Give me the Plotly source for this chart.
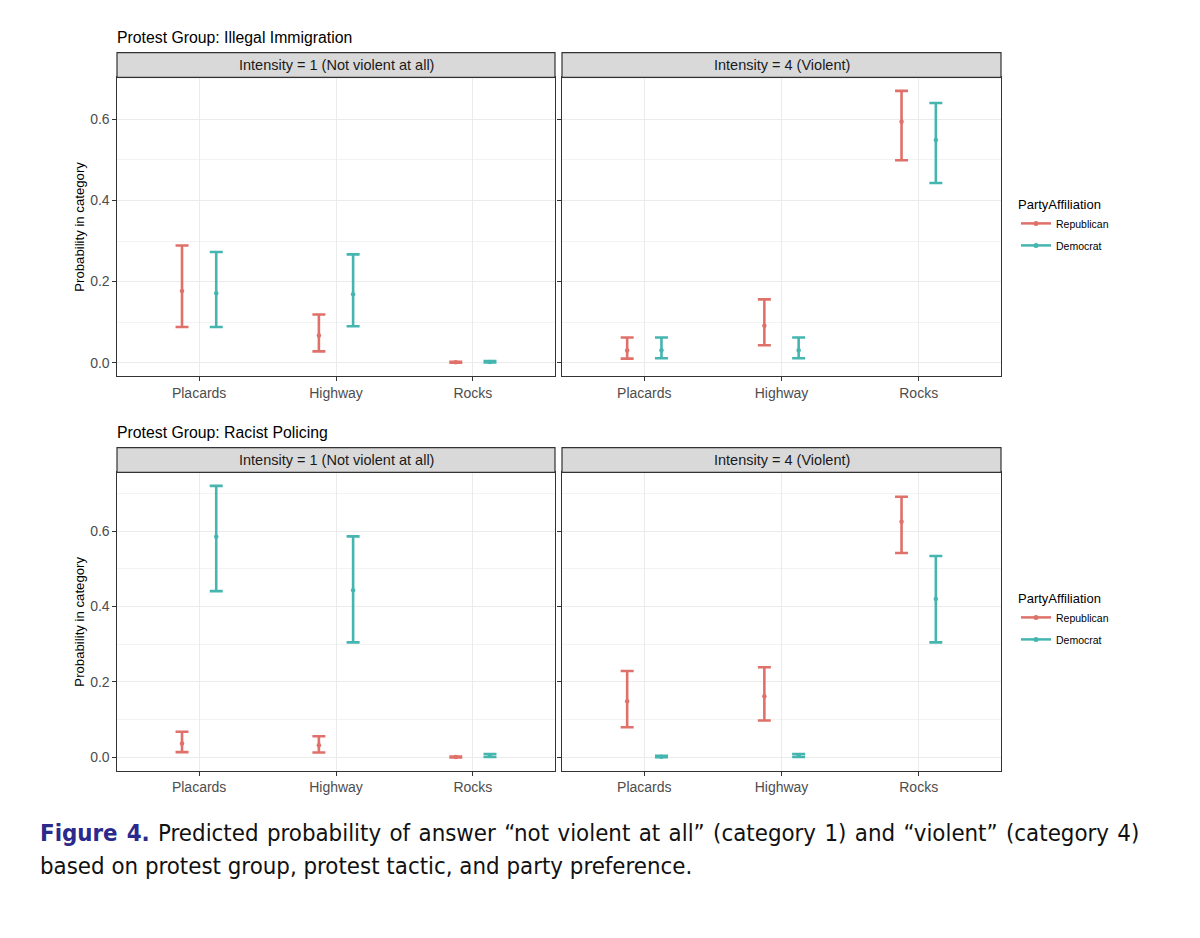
import plotly.graph_objects as go

# ---------------- data ----------------
tactics = ["Placards", "Highway", "Rocks"]
parties = ["Republican", "Democrat"]
groups = ["Protest Group: Illegal Immigration", "Protest Group: Racist Policing"]
intensities = ["Intensity = 1 (Not violent at all)", "Intensity = 4 (Violent)"]
y_ticks = [0.0, 0.2, 0.4, 0.6]

# Illegal Immigration, Intensity 1
imm1_rep_est = [0.177, 0.067, 0.001]
imm1_rep_lo = [0.088, 0.028, 0.000]
imm1_rep_hi = [0.289, 0.119, 0.002]
imm1_dem_est = [0.171, 0.169, 0.002]
imm1_dem_lo = [0.088, 0.090, 0.0005]
imm1_dem_hi = [0.273, 0.267, 0.004]
# Illegal Immigration, Intensity 4
imm4_rep_est = [0.030, 0.091, 0.594]
imm4_rep_lo = [0.010, 0.043, 0.499]
imm4_rep_hi = [0.062, 0.156, 0.670]
imm4_dem_est = [0.031, 0.031, 0.549]
imm4_dem_lo = [0.011, 0.011, 0.443]
imm4_dem_hi = [0.062, 0.062, 0.640]
# Racist Policing, Intensity 1
pol1_rep_est = [0.037, 0.032, 0.001]
pol1_rep_lo = [0.014, 0.013, 0.000]
pol1_rep_hi = [0.068, 0.056, 0.002]
pol1_dem_est = [0.585, 0.443, 0.005]
pol1_dem_lo = [0.441, 0.305, 0.001]
pol1_dem_hi = [0.720, 0.586, 0.009]
# Racist Policing, Intensity 4
pol4_rep_est = [0.149, 0.162, 0.625]
pol4_rep_lo = [0.080, 0.098, 0.542]
pol4_rep_hi = [0.229, 0.239, 0.691]
pol4_dem_est = [0.002, 0.005, 0.420]
pol4_dem_lo = [0.0005, 0.001, 0.305]
pol4_dem_hi = [0.004, 0.009, 0.534]

panels = [
    [  # row 0: Illegal Immigration
        {"Republican": (imm1_rep_est, imm1_rep_lo, imm1_rep_hi),
         "Democrat": (imm1_dem_est, imm1_dem_lo, imm1_dem_hi)},
        {"Republican": (imm4_rep_est, imm4_rep_lo, imm4_rep_hi),
         "Democrat": (imm4_dem_est, imm4_dem_lo, imm4_dem_hi)},
    ],
    [  # row 1: Racist Policing
        {"Republican": (pol1_rep_est, pol1_rep_lo, pol1_rep_hi),
         "Democrat": (pol1_dem_est, pol1_dem_lo, pol1_dem_hi)},
        {"Republican": (pol4_rep_est, pol4_rep_lo, pol4_rep_hi),
         "Democrat": (pol4_dem_est, pol4_dem_lo, pol4_dem_hi)},
    ],
]

# ---------------- style / layout ----------------
W, H = 1200, 938
colors = {"Republican": "#E0716A", "Democrat": "#45B5AF"}
dodge = {"Republican": -0.125, "Democrat": 0.125}
FONT = "Liberation Sans, Arial, Helvetica, sans-serif"

panel_x = [(117, 555), (562, 1001)]
row_y = [(52.7, 77.3, 376.3), (447.7, 472.3, 771.0)]  # strip top, plot top, plot bottom
title_y = [37, 432]
legend_top = [192, 586]


def px(x):
    return x / W


def py(y):
    return 1 - y / H


fig = go.Figure()
layout = {}
shapes = []
annotations = []

for r in range(2):
    # shared y range for the row (ggplot-like 5% expansion)
    lows = [v for c in range(2) for p in parties for v in panels[r][c][p][1]]
    highs = [v for c in range(2) for p in parties for v in panels[r][c][p][2]]
    lo_, hi_ = min(lows), max(highs)
    pad = 0.05 * (hi_ - lo_)
    yrange = [lo_ - pad, hi_ + pad]
    st, pt, pb = row_y[r]
    for c in range(2):
        k = r * 2 + c + 1
        xa = "x" if k == 1 else f"x{k}"
        ya = "y" if k == 1 else f"y{k}"
        xname = "xaxis" if k == 1 else f"xaxis{k}"
        yname = "yaxis" if k == 1 else f"yaxis{k}"
        x0, x1 = panel_x[c]
        layout[xname] = dict(
            domain=[px(x0), px(x1)], anchor=ya, range=[0.4, 3.6],
            tickmode="array", tickvals=[1, 2, 3], ticktext=tactics,
            showgrid=True, gridcolor="#EBEBEB", gridwidth=1.1, zeroline=False,
            showline=True, mirror=True, linecolor="#333333", linewidth=1.2,
            ticks="outside", ticklen=3.5, tickwidth=1, tickcolor="#333333",
            tickfont=dict(size=14, color="#4D4D4D", family=FONT),
            fixedrange=True,
        )
        layout[yname] = dict(
            domain=[py(pb), py(pt)], anchor=xa, range=yrange,
            tickmode="array", tickvals=y_ticks, ticktext=[f"{v:.1f}" for v in y_ticks],
            showticklabels=(c == 0),
            showgrid=True, gridcolor="#EBEBEB", gridwidth=1.1, zeroline=False,
            minor=dict(dtick=0.1, tick0=0, showgrid=True, gridcolor="#F3F3F3", gridwidth=0.7),
            showline=True, mirror=True, linecolor="#333333", linewidth=1.2,
            ticks="outside", ticklen=3.5, tickwidth=1, tickcolor="#333333",
            tickfont=dict(size=14, color="#4D4D4D", family=FONT),
            fixedrange=True,
        )
        for p in parties:
            est, lo, hi = panels[r][c][p]
            fig.add_trace(go.Scatter(
                x=[i + 1 + dodge[p] for i in range(len(tactics))], y=est,
                mode="markers", xaxis=xa, yaxis=ya, showlegend=False, name=p,
                marker=dict(size=4.5, color=colors[p]),
                error_y=dict(type="data", symmetric=False,
                             array=[h - e for h, e in zip(hi, est)],
                             arrayminus=[e - l for e, l in zip(est, lo)],
                             color=colors[p], thickness=2.6, width=6.5),
                hovertemplate=p + ": %{y:.3f}<extra></extra>",
            ))
        # strip
        shapes.append(dict(type="rect", xref="paper", yref="paper",
                           x0=px(x0), x1=px(x1), y0=py(pt), y1=py(st),
                           fillcolor="#D9D9D9", line=dict(color="#333333", width=1.2),
                           layer="above"))
        annotations.append(dict(text=intensities[c], xref="paper", yref="paper",
                                x=px((x0 + x1) / 2), y=py((st + pt) / 2),
                                showarrow=False, xanchor="center", yanchor="middle",
                                font=dict(size=14.5, color="#1A1A1A", family=FONT)))
    # row title
    annotations.append(dict(text=groups[r], xref="paper", yref="paper",
                            x=px(115), y=py(title_y[r]), showarrow=False,
                            xanchor="left", yanchor="middle",
                            font=dict(size=15.8, color="#000000", family=FONT)))
    # y-axis title
    annotations.append(dict(text="Probability in category", xref="paper", yref="paper",
                            x=px(80), y=py((pt + pb) / 2), textangle=-90, showarrow=False,
                            xanchor="center", yanchor="middle",
                            font=dict(size=13.2, color="#000000", family=FONT)))
    # legend-key traces
    lg = "legend" if r == 0 else "legend2"
    k0 = r * 2 + 2
    for p in parties:
        fig.add_trace(go.Scatter(
            x=[None], y=[None], mode="lines+markers", name=p,
            xaxis=f"x{k0}", yaxis=f"y{k0}", legend=lg, legendgroup=f"{p}{r}",
            line=dict(color=colors[p], width=2.5), marker=dict(size=5, color=colors[p]),
            showlegend=True,
        ))
    layout[lg] = dict(
        x=px(1016), y=py(legend_top[r]), xanchor="left", yanchor="top",
        title=dict(text="PartyAffiliation", font=dict(size=13, color="#000000", family=FONT)),
        font=dict(size=10.5, color="#000000", family=FONT),
        bgcolor="rgba(0,0,0,0)", tracegroupgap=3, itemwidth=30,
    )

# caption
CAP = "DejaVu Sans Condensed, Liberation Sans Narrow, Arial Narrow, sans-serif"
annotations.append(dict(
    text='<span style="word-spacing:1.6px"><span style="color:#2B2A8C"><b>Figure 4.</b></span> '
         'Predicted probability of answer '
         '\u201cnot violent at all\u201d (category 1) and \u201cviolent\u201d (category 4)</span>',
    xref="paper", yref="paper", x=px(38), y=py(833), xanchor="left", yanchor="middle",
    showarrow=False, font=dict(size=23.8, color="#111111", family=CAP)))
annotations.append(dict(
    text="based on protest group, protest tactic, and party preference.",
    xref="paper", yref="paper", x=px(38), y=py(866), xanchor="left", yanchor="middle",
    showarrow=False, font=dict(size=23.8, color="#111111", family=CAP)))

fig.update_layout(
    width=W, height=H, margin=dict(l=0, r=0, t=0, b=0),
    paper_bgcolor="white", plot_bgcolor="white",
    font=dict(family=FONT),
    shapes=shapes, annotations=annotations,
    **layout,
)

fig.write_html("out.html", config={"displayModeBar": False},
               post_script="document.body.style.margin='0';document.body.style.padding='0';")
